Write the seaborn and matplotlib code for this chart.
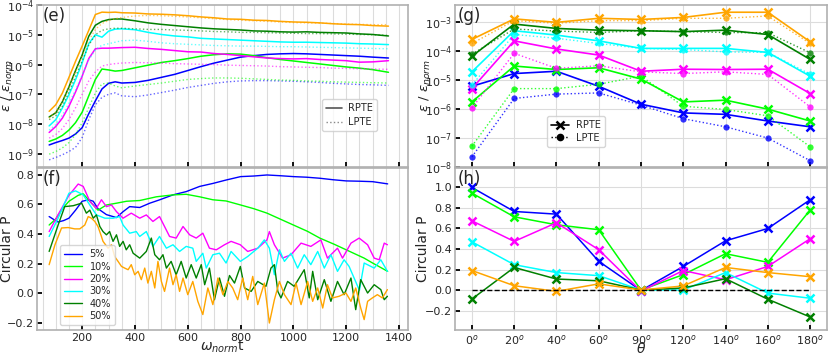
import numpy as np
import pandas as pd
import matplotlib
matplotlib.use('Agg')
import matplotlib.pyplot as plt
import seaborn as sns
from matplotlib.lines import Line2D
from matplotlib.ticker import MultipleLocator, LogLocator

# ---------------- data ----------------
labels = ['5%', '10%', '20%', '30%', '40%', '50%']
colors = ['blue', 'lime', 'magenta', 'cyan', 'green', 'orange']

# (e) energy vs time, log10 values
t_e = [75, 100, 125, 150, 175, 200, 225, 250, 275, 300, 325, 350, 400, 450, 500, 550,
       600, 650, 700, 750, 800, 850, 900, 950, 1000, 1050, 1100, 1150, 1200, 1250, 1300, 1360]

e_rpte = {
    '5%': [-8.70, -8.62, -8.55, -8.47, -8.33, -8.12, -7.65, -7.22, -6.82, -6.63, -6.58, -6.62, -6.60, -6.53,
           -6.43, -6.33, -6.20, -6.07, -5.95, -5.85, -5.75, -5.70, -5.66, -5.64, -5.63, -5.64, -5.66, -5.68,
           -5.70, -5.72, -5.75, -5.78],
    '10%': [-8.58, -8.50, -8.38, -8.20, -7.95, -7.60, -7.05, -6.50, -6.15, -6.18, -6.22, -6.20, -6.11, -6.02,
            -5.93, -5.87, -5.80, -5.72, -5.67, -5.64, -5.65, -5.70, -5.77, -5.83, -5.88, -5.93, -5.98, -6.03,
            -6.08, -6.12, -6.17, -6.26],
    '20%': [-8.28, -8.08, -7.80, -7.40, -6.92, -6.39, -5.80, -5.47, -5.45, -5.45, -5.44, -5.43, -5.42, -5.46,
            -5.49, -5.53, -5.57, -5.58, -5.63, -5.66, -5.70, -5.74, -5.78, -5.80, -5.81, -5.80, -5.83, -5.85,
            -5.87, -5.92, -5.91, -5.87],
    '30%': [-8.06, -7.85, -7.46, -7.01, -6.51, -5.94, -5.30, -5.00, -5.08, -4.88, -4.81, -4.80, -4.83, -4.92,
            -4.99, -5.04, -5.07, -5.12, -5.14, -5.16, -5.18, -5.20, -5.22, -5.24, -5.25, -5.25, -5.26, -5.27,
            -5.28, -5.30, -5.31, -5.33],
    '40%': [-7.76, -7.62, -7.25, -6.75, -6.20, -5.68, -5.05, -4.68, -4.55, -4.49, -4.47, -4.47, -4.53, -4.60,
            -4.65, -4.69, -4.73, -4.77, -4.80, -4.82, -4.84, -4.87, -4.88, -4.90, -4.91, -4.90, -4.92, -4.93,
            -4.94, -4.97, -4.99, -5.04],
    '50%': [-7.57, -7.35, -6.96, -6.43, -5.89, -5.38, -4.85, -4.32, -4.24, -4.25, -4.24, -4.26, -4.27, -4.30,
            -4.31, -4.33, -4.36, -4.40, -4.43, -4.47, -4.48, -4.51, -4.52, -4.55, -4.57, -4.58, -4.60, -4.63,
            -4.65, -4.66, -4.69, -4.71],
}
e_lpte = {
    '5%': [-9.20, -9.12, -9.03, -8.92, -8.78, -8.45, -7.85, -7.35, -7.10, -7.00, -6.95, -7.05, -7.08, -7.02,
           -6.94, -6.86, -6.77, -6.70, -6.63, -6.58, -6.55, -6.54, -6.54, -6.55, -6.56, -6.58, -6.60, -6.63,
           -6.65, -6.67, -6.68, -6.70],
    '10%': [-9.01, -8.92, -8.80, -8.62, -8.35, -7.95, -7.45, -6.95, -6.65, -6.62, -6.72, -6.78, -6.72, -6.67,
            -6.62, -6.56, -6.50, -6.47, -6.45, -6.45, -6.46, -6.48, -6.50, -6.52, -6.53, -6.55, -6.56, -6.58,
            -6.59, -6.60, -6.61, -6.62],
    '20%': [-8.47, -8.35, -8.15, -7.85, -7.45, -7.00, -6.55, -6.25, -6.05, -6.00, -5.97, -5.95, -5.93, -5.94,
            -5.95, -5.97, -5.98, -5.99, -6.00, -6.02, -6.03, -6.04, -6.05, -6.07, -6.08, -6.09, -6.10, -6.12,
            -6.13, -6.14, -6.15, -6.16],
    '30%': [-8.20, -8.02, -7.70, -7.30, -6.85, -6.35, -5.85, -5.50, -5.35, -5.30, -5.25, -5.20, -5.18, -5.22,
            -5.27, -5.30, -5.32, -5.34, -5.36, -5.37, -5.38, -5.38, -5.39, -5.40, -5.40, -5.41, -5.42, -5.43,
            -5.44, -5.45, -5.46, -5.47],
    '40%': [-7.85, -7.72, -7.40, -6.92, -6.40, -5.88, -5.35, -5.00, -4.85, -4.80, -4.78, -4.78, -4.80, -4.82,
            -4.82, -4.84, -4.85, -4.87, -4.89, -4.90, -4.92, -4.92, -4.93, -4.94, -4.95, -4.96, -4.96, -4.97,
            -4.98, -4.99, -5.00, -5.02],
    '50%': [-7.80, -7.60, -7.25, -6.75, -6.25, -5.72, -5.20, -4.82, -4.62, -4.52, -4.46, -4.42, -4.37, -4.35,
            -4.36, -4.38, -4.40, -4.43, -4.46, -4.49, -4.51, -4.53, -4.55, -4.57, -4.59, -4.60, -4.61, -4.62,
            -4.64, -4.65, -4.66, -4.66],
}

# (f) circular polarisation vs time, (t, P)
f_blue = [(75, 0.517), (90, 0.50), (109, 0.48), (130, 0.49), (150, 0.506), (175, 0.56), (200, 0.62),
          (225, 0.63), (242, 0.62), (260, 0.57), (292, 0.53), (330, 0.51), (355, 0.55), (380, 0.584),
          (418, 0.578), (456, 0.607), (494, 0.63), (544, 0.663), (594, 0.685), (645, 0.72), (695, 0.74),
          (745, 0.763), (800, 0.786), (850, 0.79), (900, 0.797), (950, 0.792), (1000, 0.786), (1050, 0.782),
          (1100, 0.775), (1150, 0.765), (1200, 0.757), (1250, 0.755), (1300, 0.752), (1357, 0.737)]
f_lime = [(75, 0.46), (100, 0.50), (125, 0.57), (150, 0.62), (185, 0.66), (204, 0.67), (229, 0.62),
          (260, 0.56), (292, 0.595), (330, 0.607), (368, 0.62), (418, 0.625), (481, 0.65), (544, 0.663),
          (594, 0.667), (645, 0.65), (695, 0.63), (745, 0.622), (800, 0.595), (850, 0.57), (900, 0.54),
          (950, 0.50), (1000, 0.46), (1054, 0.417), (1100, 0.372), (1155, 0.33), (1200, 0.293),
          (1268, 0.237), (1300, 0.204), (1357, 0.148)]
f_magenta = [(75, 0.416), (109, 0.53), (150, 0.66), (185, 0.736), (204, 0.72), (229, 0.62), (254, 0.573),
             (273, 0.63), (292, 0.584), (311, 0.595), (330, 0.55), (355, 0.506), (386, 0.54), (418, 0.506),
             (443, 0.528), (468, 0.484), (493, 0.517), (512, 0.45), (531, 0.383), (556, 0.372), (582, 0.45),
             (607, 0.394), (632, 0.372), (657, 0.405), (682, 0.304), (708, 0.293), (739, 0.327), (764, 0.35),
             (799, 0.327), (827, 0.282), (865, 0.304), (900, 0.36), (909, 0.416), (928, 0.327), (959, 0.237),
             (991, 0.26), (1029, 0.338), (1066, 0.316), (1104, 0.36), (1129, 0.237), (1167, 0.304),
             (1186, 0.237), (1218, 0.338), (1249, 0.372), (1281, 0.327), (1306, 0.237), (1325, 0.226),
             (1344, 0.338), (1356, 0.327)]
f_cyan = [(75, 0.383), (109, 0.506), (150, 0.674), (175, 0.69), (204, 0.663), (229, 0.595), (254, 0.528),
          (286, 0.506), (317, 0.506), (342, 0.517), (355, 0.46), (380, 0.405), (405, 0.416), (418, 0.383),
          (443, 0.416), (468, 0.316), (493, 0.383), (519, 0.304), (544, 0.327), (569, 0.282), (594, 0.316),
          (619, 0.304), (632, 0.215), (657, 0.27), (670, 0.17), (695, 0.26), (720, 0.27), (745, 0.204),
          (764, 0.282), (799, 0.215), (827, 0.248), (865, 0.304), (890, 0.36), (909, 0.304), (928, 0.125),
          (947, 0.293), (966, 0.215), (991, 0.27), (1016, 0.17), (1041, 0.26), (1066, 0.193), (1092, 0.282),
          (1117, 0.17), (1142, 0.26), (1167, 0.148), (1192, 0.226), (1211, 0.181), (1250, 0.02),
          (1268, 0.204), (1306, 0.17), (1331, 0.226), (1356, 0.148)]
f_green = [(75, 0.282), (109, 0.46), (134, 0.584), (166, 0.59), (198, 0.607), (216, 0.54), (229, 0.56),
           (242, 0.506), (254, 0.528), (267, 0.45), (279, 0.416), (292, 0.394), (304, 0.416), (317, 0.35),
           (330, 0.394), (342, 0.316), (355, 0.35), (367, 0.293), (380, 0.327), (393, 0.27), (418, 0.237),
           (443, 0.282), (462, 0.372), (475, 0.26), (493, 0.226), (506, 0.26), (519, 0.17), (537, 0.215),
           (556, 0.125), (575, 0.215), (594, 0.103), (613, 0.193), (632, 0.103), (651, 0.193), (664, 0.058),
           (682, 0.17), (701, -0.043), (720, 0.103), (739, -0.02), (758, 0.12), (777, 0.069), (799, 0.181),
           (815, 0.036), (840, 0.013), (865, 0.08), (896, 0.047), (915, 0.17), (928, 0.193), (941, 0.013),
           (953, -0.031), (978, 0.08), (1003, 0.047), (1041, 0.159), (1060, -0.031), (1073, 0.148),
           (1092, -0.043), (1117, 0.092), (1142, -0.054), (1167, 0.08), (1192, -0.009), (1218, 0.103),
           (1236, -0.11), (1255, 0.092), (1281, 0.002), (1306, 0.058), (1331, 0.025), (1344, -0.043),
           (1356, -0.02)]
f_orange = [(75, 0.193), (97, 0.327), (122, 0.44), (147, 0.443), (172, 0.434), (191, 0.434), (210, 0.46),
            (223, 0.517), (235, 0.506), (248, 0.484), (260, 0.45), (273, 0.383), (279, 0.35), (298, 0.304),
            (311, 0.327), (323, 0.248), (336, 0.215), (349, 0.181), (361, 0.17), (374, 0.159), (386, 0.193),
            (399, 0.125), (412, 0.148), (424, 0.092), (437, 0.17), (449, 0.069), (462, 0.148), (475, 0.036),
            (487, 0.215), (500, 0.08), (512, 0.013), (531, 0.17), (544, 0.058), (556, 0.125), (569, 0.013),
            (582, 0.103), (600, -0.009), (619, 0.08), (638, -0.054), (657, -0.143), (676, 0.036),
            (695, -0.076), (714, 0.103), (733, -0.009), (752, 0.08), (770, 0.036), (789, -0.043),
            (808, 0.103), (827, -0.043), (846, 0.114), (865, -0.076), (890, 0.069), (909, -0.2),
            (928, -0.043), (947, 0.08), (966, -0.009), (991, -0.076), (1010, 0.069), (1029, -0.076),
            (1054, 0.08), (1073, -0.054), (1092, 0.036), (1111, -0.099), (1129, 0.058), (1148, -0.031),
            (1173, -0.02), (1199, 0.002), (1218, -0.054), (1236, 0.036), (1255, -0.099), (1268, -0.177),
            (1281, -0.054), (1299, -0.031), (1318, -0.009), (1337, -0.031), (1356, 0.025)]
f_series = [f_blue, f_lime, f_magenta, f_cyan, f_green, f_orange]

# (g), (h) vs angle
theta = [0, 20, 40, 60, 90, 120, 140, 160, 180]
g_rpte = {
    '5%': [-5.21, -4.77, -4.69, -5.21, -5.83, -6.13, -6.18, -6.41, -6.61],
    '10%': [-5.75, -4.51, -4.63, -4.57, -4.96, -5.75, -5.69, -6.00, -6.41],
    '20%': [-5.29, -3.64, -3.92, -4.13, -4.69, -4.62, -4.63, -4.62, -5.46],
    '30%': [-4.71, -3.29, -3.44, -3.64, -3.90, -3.90, -3.90, -4.04, -4.86],
    '40%': [-4.17, -3.06, -3.21, -3.27, -3.29, -3.32, -3.27, -3.42, -4.28],
    '50%': [-3.59, -2.88, -3.00, -2.86, -2.90, -2.83, -2.65, -2.65, -3.67],
}
g_lpte = {
    '5%': [-7.65, -5.63, -5.48, -5.44, -5.86, -6.33, -6.61, -7.00, -7.78],
    '10%': [-7.28, -5.29, -5.29, -5.14, -4.86, -5.90, -6.01, -6.23, -7.30],
    '20%': [-5.96, -4.07, -4.59, -4.50, -4.71, -4.77, -4.71, -4.80, -5.92],
    '30%': [-5.17, -3.42, -3.55, -3.73, -3.90, -3.94, -4.02, -4.04, -4.79],
    '40%': [-4.10, -3.23, -3.30, -3.35, -3.29, -3.32, -3.35, -3.36, -4.05],
    '50%': [-3.73, -2.94, -3.03, -2.94, -2.94, -2.86, -2.86, -2.78, -3.73],
}
h_circ = {
    '5%': [1.00, 0.766, 0.74, 0.28, -0.005, 0.23, 0.48, 0.60, 0.88],
    '10%': [0.945, 0.714, 0.636, 0.588, 0.0, 0.15, 0.354, 0.27, 0.78],
    '20%': [0.675, 0.474, 0.656, 0.393, -0.01, 0.19, 0.10, 0.23, 0.50],
    '30%': [0.47, 0.247, 0.17, 0.14, 0.0, 0.0, 0.17, -0.03, -0.08],
    '40%': [-0.088, 0.22, 0.107, 0.09, 0.0, 0.02, 0.11, -0.09, -0.263],
    '50%': [0.19, 0.042, -0.013, 0.06, 0.0, 0.04, 0.22, 0.17, 0.13],
}
theta_labels = [f'{a}$^o$' for a in theta]

# ---------------- style ----------------
sns.set_style('whitegrid')
plt.rcParams.update({
    'axes.edgecolor': '#b0b0b0',
    'axes.linewidth': 1.2,
    'grid.color': '#dcdcdc',
    'grid.linewidth': 0.8,
    'font.size': 8,
})
plt.rcParams['font.family'] = ['DejaVu Sans']

fig = plt.figure(figsize=(8.3, 3.55), dpi=100)
L, W = 37 / 830, 371 / 830
R, WR = 455 / 830, 372 / 830
H = 162 / 355
ax_e = fig.add_axes([L, 1 - 167 / 355, W, H])
ax_f = fig.add_axes([L, 1 - 330 / 355, W, H])
ax_g = fig.add_axes([R, 1 - 167 / 355, WR, H])
ax_h = fig.add_axes([R, 1 - 330 / 355, WR, H])

# (e)
for lab, c in zip(labels, colors):
    sns.lineplot(x=t_e, y=10 ** np.array(e_rpte[lab]), ax=ax_e, color=c, lw=1.1,
                 estimator=None, sort=False)
    sns.lineplot(x=t_e, y=10 ** np.array(e_lpte[lab]), ax=ax_e, color=c, lw=1.0, ls=':',
                 alpha=0.6, estimator=None, sort=False)
ax_e.set_yscale('log')
ax_e.set_ylim(10 ** -9.44, 1e-4)
ax_e.yaxis.set_major_locator(LogLocator(base=10, numticks=10))
ax_e.set_ylabel(r'$\epsilon$ / $\epsilon_{norm}$', fontsize=9.5)
ax_e.legend(handles=[Line2D([], [], color='#555555', lw=1.2, label='RPTE'),
                     Line2D([], [], color='#888888', lw=1.0, ls=':', label='LPTE')],
            loc='lower left', bbox_to_anchor=(0.755, 0.19), fontsize=7, frameon=True,
            handlelength=1.6, handletextpad=0.6, borderpad=0.45, labelspacing=0.4)

# (f)
for lab, c, ser in zip(labels, colors, f_series):
    df = pd.DataFrame(ser, columns=['t', 'P'])
    sns.lineplot(data=df, x='t', y='P', ax=ax_f, color=c, lw=1.0, label=lab,
                 estimator=None, sort=False)
ax_f.set_ylim(-0.247, 0.844)
ax_f.yaxis.set_major_locator(MultipleLocator(0.2))
ax_f.set_ylabel('Circular P', fontsize=10)
ax_f.set_xlabel(r'$\omega_{norm}$t', fontsize=10)
ax_f.legend(loc='lower left', bbox_to_anchor=(0.05, 0.0), fontsize=7, handlelength=1.8,
            labelspacing=0.25, borderpad=0.4)

for ax in (ax_e, ax_f):
    ax.set_xlim(29, 1434)
    ax.xaxis.set_major_locator(MultipleLocator(200))
    ax.xaxis.set_minor_locator(MultipleLocator(50))
    ax.grid(which='minor', axis='x', color='#dcdcdc', lw=0.8)
    ax.grid(which='major', axis='y')
ax_e.tick_params(axis='x', labelbottom=False)
ax_e.set_xlabel('')

# (g)
xpos = list(range(len(theta)))
for lab, c in zip(labels, colors):
    sns.lineplot(x=xpos, y=10 ** np.array(g_rpte[lab]), ax=ax_g, color=c, lw=1.2, marker='x',
                 markersize=6, markeredgewidth=1.8, markeredgecolor=c, estimator=None, sort=False)
    sns.lineplot(x=xpos, y=10 ** np.array(g_lpte[lab]), ax=ax_g, color=c, lw=1.0, ls=':',
                 marker='o', markersize=4.5, markeredgewidth=0, alpha=0.8, estimator=None, sort=False)
ax_g.set_yscale('log')
ax_g.set_ylim(1e-8, 10 ** -2.4)
ax_g.yaxis.set_major_locator(LogLocator(base=10, numticks=10))
ax_g.set_ylabel(r'$\epsilon$ / $\epsilon_{norm}$', fontsize=9.5)
ax_g.legend(handles=[Line2D([], [], color='black', lw=1.2, marker='x', ms=6, mew=1.8, label='RPTE'),
                     Line2D([], [], color='black', lw=1.0, ls=':', marker='o', ms=4.5, label='LPTE')],
            loc='lower left', bbox_to_anchor=(0.235, 0.095), fontsize=7, handlelength=1.8,
            borderpad=0.4, labelspacing=0.3)

# (h)
for lab, c in zip(labels, colors):
    sns.lineplot(x=xpos, y=h_circ[lab], ax=ax_h, color=c, lw=1.1, marker='x', markersize=6,
                 markeredgewidth=1.8, markeredgecolor=c, estimator=None, sort=False)
ax_h.hlines(0, xpos[0], xpos[-1], colors='black', linestyles='--', lw=1)
ax_h.set_ylim(-0.39, 1.19)
ax_h.yaxis.set_major_locator(MultipleLocator(0.2))
ax_h.set_ylabel('Circular P', fontsize=10)
ax_h.set_xlabel(r'$\theta$', fontsize=10)

for ax in (ax_g, ax_h):
    ax.set_xlim(-0.4, 8.4)
    ax.set_xticks(xpos)
ax_h.set_xticklabels(theta_labels)
ax_g.tick_params(axis='x', labelbottom=False)
ax_g.set_xlabel('')

for ax in (ax_e, ax_f, ax_g, ax_h):
    ax.tick_params(which='major', direction='in', length=3.5, width=1.3, color='black',
                   bottom=True, left=True, labelsize=8, pad=2)
    ax.tick_params(which='minor', length=0)

# label positions (axes fraction)
ax_e.yaxis.set_label_coords(-0.058, 0.5)
ax_f.yaxis.set_label_coords(-0.062, 0.5)
ax_g.yaxis.set_label_coords(-0.058, 0.5)
ax_h.yaxis.set_label_coords(-0.067, 0.5)
ax_f.xaxis.set_label_coords(0.5, -0.105)
ax_h.xaxis.set_label_coords(0.5, -0.113)
for ax in (ax_f, ax_h):
    ax.xaxis.label.set_va('center')

for ax, txt, xx in ((ax_e, '(e)', 0.015), (ax_f, '(f)', 0.015), (ax_g, '(g)', 0.008), (ax_h, '(h)', 0.008)):
    ax.text(xx, 0.985, txt, transform=ax.transAxes, ha='left', va='top', fontsize=12)

fig.savefig('out.png', dpi=100)
